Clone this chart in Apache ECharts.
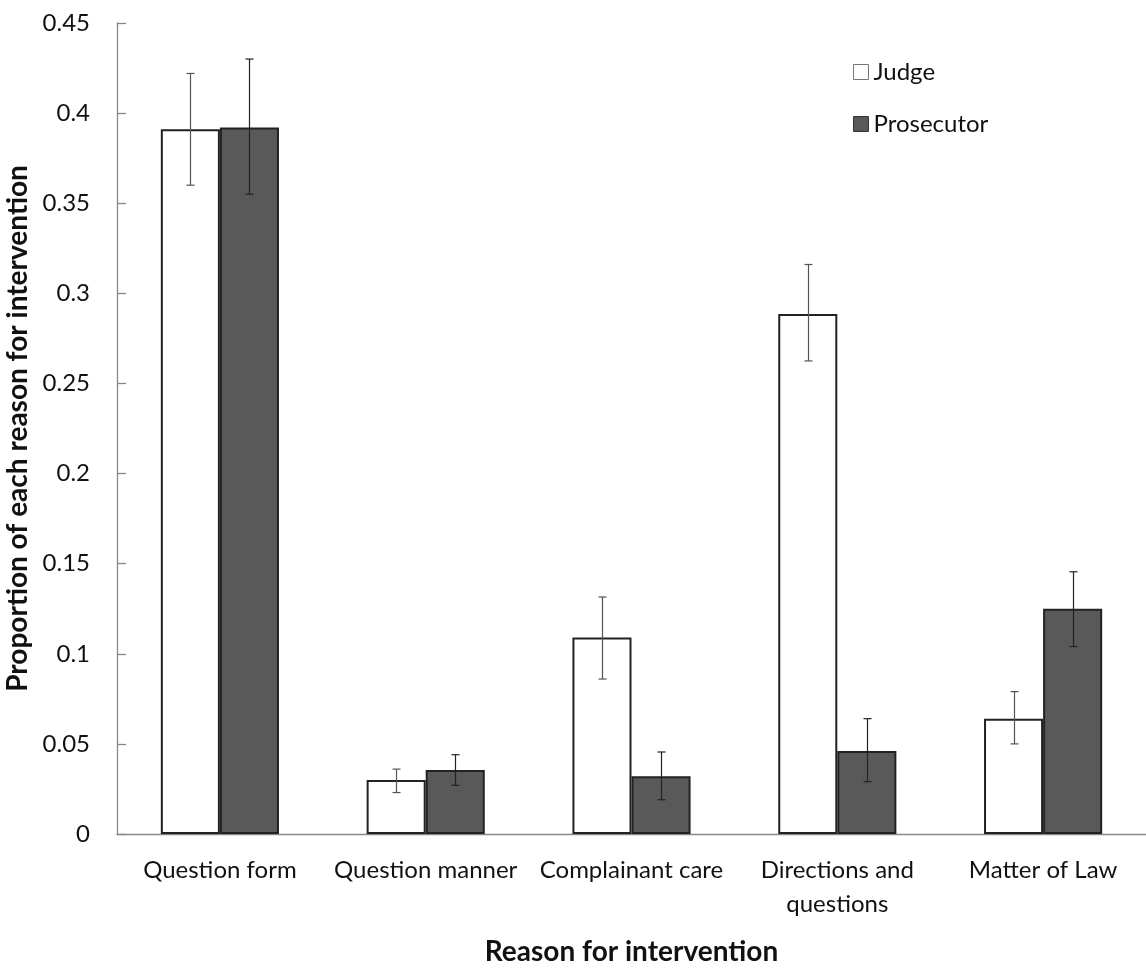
<!DOCTYPE html>
<html>
<head>
<meta charset="utf-8">
<script src="https://cdn.jsdelivr.net/npm/echarts@6/dist/echarts.min.js"></script>
<style>
html,body{margin:0;padding:0;background:#fff;}
#chart{width:1146px;height:971px;}
</style>
</head>
<body>
<div id="chart"></div>
<script>
const categories = ['Question form', 'Question manner', 'Complainant care', 'Directions and\nquestions', 'Matter of Law'];
const judgeValues = [0.391, 0.030, 0.109, 0.2885, 0.064];
const judgeLow = [0.360, 0.023, 0.086, 0.2625, 0.050];
const judgeHigh = [0.422, 0.036, 0.1315, 0.316, 0.079];
const prosecutorValues = [0.392, 0.0355, 0.032, 0.046, 0.125];
const prosecutorLow = [0.355, 0.027, 0.019, 0.029, 0.104];
const prosecutorHigh = [0.430, 0.044, 0.0455, 0.064, 0.1455];
const yTicks = [0, 0.05, 0.1, 0.15, 0.2, 0.25, 0.3, 0.35, 0.4, 0.45];

const FONT = 'Lato';
const BAR_W = 0.287; // fraction of category band

function errSeries(low, high, side, color) {
  return {
    type: 'custom',
    silent: true,
    z: 10,
    data: categories.map((c, i) => [i, low[i], high[i]]),
    renderItem: function (params, api) {
      const band = api.size([1, 0])[0];
      const off = side * band * BAR_W / 2;
      const lo = api.coord([api.value(0), api.value(1)]);
      const hi = api.coord([api.value(0), api.value(2)]);
      const x = Math.round(lo[0] + off) + 0.5;
      const cap = 4;
      const st = { stroke: color, lineWidth: 1.2 };
      return {
        type: 'group',
        children: [
          { type: 'line', shape: { x1: x, y1: lo[1], x2: x, y2: hi[1] }, style: st },
          { type: 'line', shape: { x1: x - cap, y1: lo[1], x2: x + cap, y2: lo[1] }, style: st },
          { type: 'line', shape: { x1: x - cap, y1: hi[1], x2: x + cap, y2: hi[1] }, style: st }
        ]
      };
    }
  };
}

const chart = echarts.init(document.getElementById('chart'));
chart.setOption({
  animation: false,
  backgroundColor: '#fff',
  textStyle: { fontFamily: FONT },
  grid: { left: 117, right: 0, top: 23, bottom: 137, containLabel: false, outerBoundsMode: 'none' },
  legend: {
    orient: 'vertical',
    left: 848,
    top: 55,
    itemWidth: 15,
    itemHeight: 15,
    itemGap: 28,
    icon: 'rect',
    textStyle: { fontFamily: FONT, fontSize: 24, lineHeight: 24, color: '#111' },
    data: [
      { name: 'Judge', itemStyle: { color: '#fff', borderColor: '#777', borderWidth: 1 } },
      { name: 'Prosecutor', itemStyle: { color: '#595959', borderColor: '#333', borderWidth: 1 } }
    ]
  },
  xAxis: {
    type: 'category',
    data: categories,
    name: 'Reason for intervention',
    nameLocation: 'middle',
    nameGap: 104,
    nameTextStyle: { fontFamily: FONT, fontSize: 28, fontWeight: 'bold', color: '#111' },
    axisLine: { lineStyle: { color: '#888', width: 1.3 } },
    axisTick: { show: false },
    axisLabel: { fontFamily: FONT, fontSize: 24, color: '#111', margin: 19, lineHeight: 34, interval: 0 }
  },
  yAxis: {
    type: 'value',
    min: 0,
    max: 0.45,
    interval: 0.05,
    name: 'Proportion of each reason for intervention',
    nameLocation: 'middle',
    nameGap: 76,
    nameTextStyle: { fontFamily: FONT, fontSize: 28, fontWeight: 'bold', color: '#111' },
    axisLine: { show: true, lineStyle: { color: '#888', width: 1.3 } },
    axisTick: { show: true, inside: true, length: 9, lineStyle: { color: '#888', width: 1.3 } },
    splitLine: { show: false },
    axisLabel: {
      fontFamily: FONT, fontSize: 24, color: '#111', margin: 27,
      formatter: function (v) {
        const t = yTicks.find(x => Math.abs(x - v) < 1e-9);
        return t === undefined ? '' : String(+t.toFixed(2));
      }
    }
  },
  series: [
    {
      name: 'Judge',
      type: 'bar',
      data: judgeValues,
      barWidth: (BAR_W * 100) + '%',
      barGap: '0%',
      itemStyle: { color: '#fff', borderColor: '#222', borderWidth: 2 }
    },
    {
      name: 'Prosecutor',
      type: 'bar',
      data: prosecutorValues,
      barWidth: (BAR_W * 100) + '%',
      barGap: '0%',
      itemStyle: { color: '#595959', borderColor: '#222', borderWidth: 2 }
    },
    errSeries(judgeLow, judgeHigh, -1, '#555'),
    errSeries(prosecutorLow, prosecutorHigh, 1, '#222')
  ]
});
</script>
</body>
</html>
